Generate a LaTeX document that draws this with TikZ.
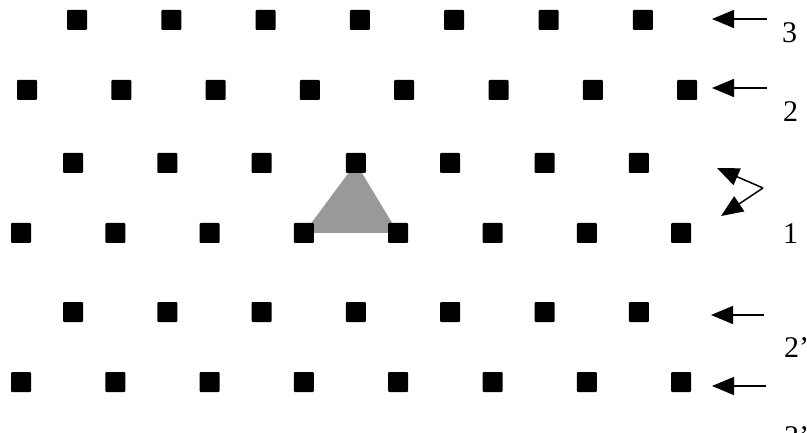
\documentclass[tikz,border=0pt]{standalone}
\usepackage{fontspec}
\setmainfont{Liberation Serif}
\usetikzlibrary{arrows.meta,backgrounds}
\definecolor{cellgray}{gray}{0.6}
\tikzset{site/.style={fill=black,minimum size=20pt,inner sep=0pt,rounded corners=1pt},
  lbl/.style={anchor=west,inner sep=0pt,font=\fontsize{30}{34}\selectfont},
  ptr/.style={line width=1.5pt,-{Triangle[length=22pt,width=18pt]}}}
\begin{document}
\begin{tikzpicture}[x=1pt,y=-1pt]
	\useasboundingbox (0,0) rectangle (807,433);
	% rows of sites
	\foreach \r/\x/\y/\n in {a/77/20/6,b/27/90/7,c/73/163/6,d/21/233/7,e/73/312/6,f/21/382/7}
		\foreach \i in {0,...,\n}
			\node[site] (\r\i) at (\x+94.3*\i,\y) {};
	\begin{scope}[on background layer]
		\fill[cellgray] (c3.center) -- (d3.center) -- (d4.center) -- cycle;
	\end{scope}
	% pointers
	\coordinate (s3) at (767,19);   \coordinate (t3) at (712,19);
	\coordinate (s2) at (767,88);   \coordinate (t2) at (712,88);
	\coordinate (s1) at (763,188);  \coordinate (t1a) at (717,168); \coordinate (t1b) at (721,216);
	\coordinate (s2p) at (764,315); \coordinate (t2p) at (711,315);
	\coordinate (s3p) at (766,386); \coordinate (t3p) at (712,386);
	\draw[ptr] (s3) -- (t3);
	\draw[ptr] (s2) -- (t2);
	\draw[ptr] (s1) -- (t1a);
	\draw[ptr] (s1) -- (t1b);
	\draw[ptr] (s2p) -- (t2p);
	\draw[ptr] (s3p) -- (t3p);
	% labels
	\node[lbl] (l3) at (782,33) {3};
	\node[lbl] (l2) at (783,112) {2};
	\node[lbl] (l1) at (783,234) {1};
	\node[lbl] (l2p) at (784,348) {2'};
	\node[lbl] (l3p) at (784,437) {3'};
\end{tikzpicture}
\end{document}
